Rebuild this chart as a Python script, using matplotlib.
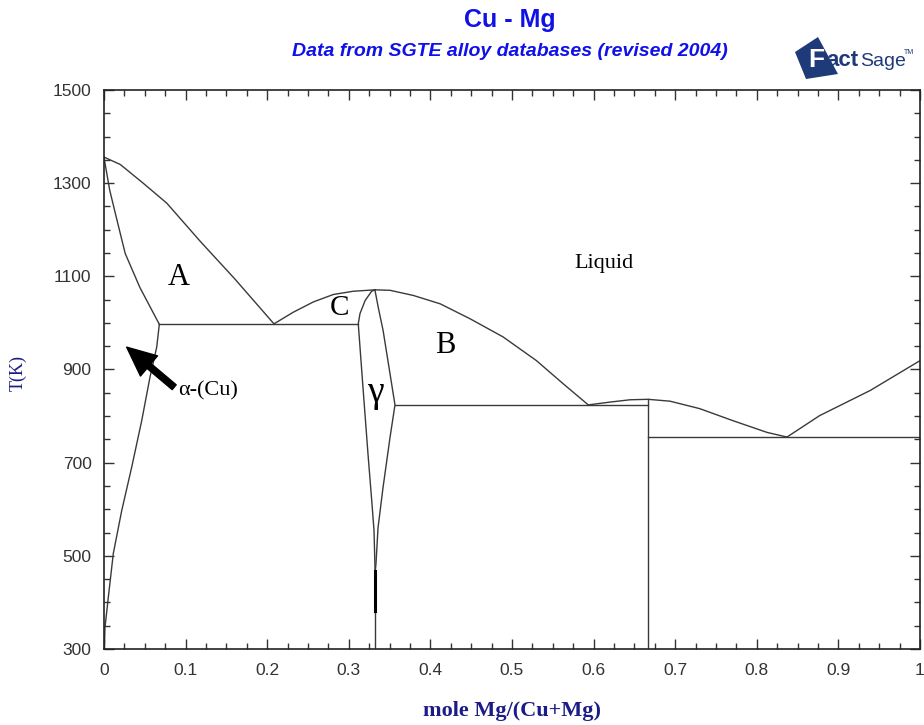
import matplotlib.pyplot as plt
import matplotlib.patches as mpatches
from matplotlib.ticker import MultipleLocator
import numpy as np

# Cu - Mg phase diagram, boundaries
# liquidus, Cu side down to the first eutectic
cu_liq_x = [0.0, 0.02, 0.048, 0.077, 0.118, 0.16, 0.2083]
cu_liq_T = [1356, 1340, 1300, 1257, 1175, 1095, 998]
# alpha-(Cu) solidus and solvus
a_sol_x = [0.0, 0.0012, 0.007, 0.016, 0.026, 0.044, 0.0678]
a_sol_T = [1356, 1343, 1285, 1220, 1149, 1076, 997]
a_svs_x = [0.0678, 0.0646, 0.0564, 0.0462, 0.0339, 0.0217, 0.0114, 0.0053, 0.0012, 0.0004]
a_svs_T = [997, 948, 884, 790, 690, 597, 505, 411, 346, 300]
# liquidus around Cu2Mg
c_liq_x = [0.2083, 0.232, 0.2565, 0.281, 0.3055, 0.332]
c_liq_T = [998, 1023, 1045, 1061, 1068, 1071]
b_liq_x = [0.332, 0.3505, 0.379, 0.412, 0.4485, 0.489, 0.530, 0.563, 0.5935]
b_liq_T = [1071, 1070, 1059, 1041, 1009, 970, 919, 869, 824]
# gamma (Cu2Mg) boundaries
g_left_x = [0.332, 0.328, 0.320, 0.3137, 0.3116, 0.3174, 0.3235, 0.3284, 0.3309, 0.3322]
g_left_T = [1071, 1068, 1048, 1020, 998, 861, 719, 612, 554, 468]
g_right_x = [0.332, 0.336, 0.342, 0.3505, 0.3566, 0.3505, 0.3419, 0.3358, 0.3333, 0.3325]
g_right_T = [1071, 1034, 984, 891, 824, 754, 646, 560, 483, 468]
# liquidus around CuMg2 and towards Mg
d_liq_x = [0.5935, 0.620, 0.6446, 0.6667, 0.6936, 0.730, 0.771, 0.8125, 0.837]
d_liq_T = [824, 830, 835, 836, 832, 816, 790, 765, 755]
mg_liq_x = [0.837, 0.877, 0.939, 1.0]
mg_liq_T = [755, 801, 855, 919]
# invariant lines: (x_start, x_end, T)
horiz = [(0.0678, 0.3116, 997), (0.3566, 0.6667, 824), (0.6667, 1.0, 755)]
# vertical compound lines: (x, T_low, T_high)
vert = [(0.6667, 300, 836), (0.3325, 300, 382)]
thick_seg = (0.3325, 382, 468)

labels = ['Liquid', 'A', 'B', 'C', 'γ']
label_x = [0.613, 0.091, 0.418, 0.289, 0.333]
label_T = [1128, 1098, 952, 1031, 850]
label_size = [16, 22, 22, 21, 27]

xticks = [0, 0.1, 0.2, 0.3, 0.4, 0.5, 0.6, 0.7, 0.8, 0.9, 1.0]
xtick_labels = ['0', '0.1', '0.2', '0.3', '0.4', '0.5', '0.6', '0.7', '0.8', '0.9', '1']
yticks = [300, 500, 700, 900, 1100, 1300, 1500]

plt.rcParams['font.family'] = ['Liberation Sans', 'DejaVu Sans']
serif = ['Liberation Serif', 'DejaVu Serif']

fig = plt.figure(figsize=(9.24, 7.25), dpi=100)
ax = fig.add_axes([104/924, 1-649/725, 816/924, 559/725])

lc = '#3a3a3a'
lw = 1.0
for xs, ts in [(cu_liq_x, cu_liq_T), (a_sol_x, a_sol_T), (a_svs_x, a_svs_T),
               (c_liq_x, c_liq_T), (b_liq_x, b_liq_T), (g_left_x, g_left_T),
               (g_right_x, g_right_T), (d_liq_x, d_liq_T), (mg_liq_x, mg_liq_T)]:
    ax.plot(xs, ts, color=lc, lw=lw)
for x0, x1, t in horiz:
    ax.plot([x0, x1], [t, t], color=lc, lw=lw)
for x, t0, t1 in vert:
    ax.plot([x, x], [t0, t1], color=lc, lw=lw)
ax.plot([thick_seg[0]]*2, thick_seg[1:], color='black', lw=2.2)

for s, x, t, fs in zip(labels, label_x, label_T, label_size):
    ax.text(x, t, s, fontsize=fs, family=serif, ha='center', va='center')
ax.text(0.0907, 855, 'α-(Cu)', fontsize=16, family=serif, ha='left', va='center')
ax.annotate('', xy=(0.0278, 948), xytext=(0.086, 862),
            arrowprops=dict(facecolor='black', edgecolor='black', width=4.5,
                            headwidth=19, headlength=21, shrink=0))

ax.set_xlim(0, 1)
ax.set_ylim(300, 1500)
ax.set_xticks(xticks)
ax.set_xticklabels(xtick_labels)
ax.xaxis.set_minor_locator(MultipleLocator(0.025))
ax.set_yticks(yticks)
ax.yaxis.set_minor_locator(MultipleLocator(50))
ax.tick_params(which='both', direction='in', top=True, right=True, colors='#333333',
               labelcolor='#333333', labelsize=12.5)
ax.tick_params(which='major', length=7, width=1)
ax.tick_params(which='minor', length=4, width=1)
ax.tick_params(axis='x', pad=10)
ax.tick_params(axis='y', pad=9)
for sp in ax.spines.values():
    sp.set_color('#222222')
    sp.set_linewidth(1.2)

navy = '#1c1c86'
fig.text(18/924, 1-373/725, 'T(K)', rotation=90, ha='center', va='center',
         color=navy, fontsize=13, family=serif)
fig.text(512/924, 1-711/725, 'mole Mg/(Cu+Mg)', ha='center', va='center',
         color=navy, fontsize=16, fontweight='bold', family=serif)

fig.text(510/924, 1-20/725, 'Cu - Mg', ha='center', va='center', color='#1010e8',
         fontsize=18, fontweight='bold')
fig.text(510/924, 1-52/725, 'Data from SGTE alloy databases (revised 2004)', ha='center',
         va='center', color='#1010e8', fontsize=14, fontweight='bold', style='italic')

# FactSage logo
logo_c = '#1f3a78'
sq = mpatches.Polygon([(795/924, 1-52/725), (818/924, 1-37/725), (838/924, 1-74/725),
                       (806/924, 1-79/725)], closed=True, transform=fig.transFigure,
                      facecolor=logo_c, edgecolor='none')
fig.patches.append(sq)
fig.text(808/924, 1-60/725, 'F', ha='left', va='center', color='white', fontsize=19,
         fontweight='bold')
fig.text(826/924, 1-61/725, 'act', ha='left', va='center', color=logo_c, fontsize=16,
         fontweight='bold')
fig.text(860/924, 1-61/725, 'Sage', ha='left', va='center', color=logo_c, fontsize=14)
fig.text(904/924, 1-52/725, 'TM', ha='left', va='center', color=logo_c, fontsize=5)

fig.savefig('out.png', dpi=100)
